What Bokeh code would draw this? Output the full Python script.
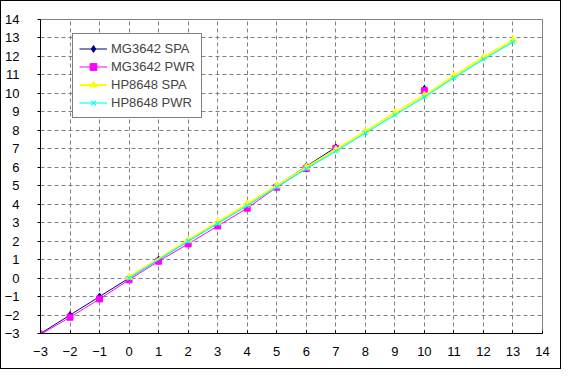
from bokeh.plotting import figure
from bokeh.models import Range1d, FixedTicker, Legend, LegendItem
from bokeh.embed import file_html
from bokeh.resources import INLINE

nan = float("nan")
# data
x_mg = [-3, -2, -1, 0, 1, 2, 3, 4, 5, 6, 7, 8, 9, 10]
mg_spa = [-3.0, -2.0, -1.0, 0.0, 1.0, 2.0, 3.0, 4.0, 5.0, 6.05, 7.08, nan, nan, 10.25]
mg_pwr = [-3.05, -2.12, -1.13, -0.09, 0.91, 1.85, 2.82, 3.78, 4.92, 5.93, 7.02, nan, nan, 10.15]
x_hp = [0, 2, 3, 4, 5, 6, 7, 8, 9, 10, 11, 12, 13]
hp_spa = [0.05, 2.05, 3.03, 4.02, 5.0, 6.0, 6.95, 7.95, 8.95, 9.9, 10.95, 11.95, 12.9]
hp_pwr = [0.0, 2.0, 2.95, 3.92, 4.93, 5.92, 6.87, 7.85, 8.83, 9.8, 10.85, 11.85, 12.78]
ticks = list(range(-3, 15))
labels = {t: (str(t).replace("-", "\u2212")) for t in ticks}

W, H = 561, 369
p = figure(width=W, height=H, output_backend="svg", toolbar_location=None,
           x_range=Range1d(-3, 14), y_range=Range1d(-3, 14),
           min_border_left=38, min_border_right=20, min_border_top=18, min_border_bottom=37)
p.styles = {"border": "1px solid black"}
p.outline_line_color = "#808080"
p.outline_line_width = 1
p.background_fill_color = "white"
p.border_fill_color = "white"

FONT = "Liberation Sans"
for ax in (p.xaxis[0], p.yaxis[0]):
    ax.ticker = FixedTicker(ticks=ticks)
    ax.major_label_overrides = labels
    ax.axis_line_color = "black"
    ax.major_tick_line_color = "black"
    ax.minor_tick_line_color = None
    ax.major_label_text_font = FONT
    ax.major_label_text_font_size = "13px"
    ax.major_label_text_color = "black"
p.xaxis.major_tick_in = 3
p.xaxis.major_tick_out = 0
p.xaxis.major_label_standoff = 13
p.yaxis.major_tick_in = 0
p.yaxis.major_tick_out = 3
p.yaxis.major_label_standoff = 18

for g in (p.xgrid[0], p.ygrid[0]):
    g.ticker = FixedTicker(ticks=ticks)
    g.grid_line_color = "#808080"
    g.grid_line_dash = "4 3"
    g.grid_line_width = 1

l1 = p.line(x_mg, mg_spa, line_color="#000080", line_width=1)
m1 = p.scatter(x_mg, mg_spa, marker="diamond", size=7, fill_color="#000080", line_color="#000080")
l2 = p.line(x_mg, mg_pwr, line_color="#FF00FF", line_width=1)
m2 = p.scatter(x_mg, mg_pwr, marker="square", size=6, fill_color="#FF00FF", line_color="#FF00FF")
l3 = p.line(x_hp, hp_spa, line_color="#FFFF00", line_width=2)
m3 = p.scatter(x_hp, hp_spa, marker="triangle", size=7, fill_color="#FFFF00", line_color="#FFFF00")
l4 = p.line(x_hp, hp_pwr, line_color="#00FFFF", line_width=1.2)
m4 = p.scatter(x_hp, hp_pwr, marker="x", size=6, line_color="#00FFFF", line_width=1.2)

legend = Legend(items=[
    LegendItem(label="MG3642 SPA", renderers=[l1, m1]),
    LegendItem(label="MG3642 PWR", renderers=[l2, m2]),
    LegendItem(label="HP8648 SPA", renderers=[l3, m3]),
    LegendItem(label="HP8648 PWR", renderers=[l4, m4]),
], location=(32, 215))
legend.border_line_color = "black"
legend.border_line_width = 1.5
legend.background_fill_color = "white"
legend.background_fill_alpha = 1
legend.label_text_font = FONT
legend.label_text_font_size = "13px"
legend.glyph_width = 28
legend.glyph_height = 17
legend.label_height = 17
legend.spacing = 1
legend.padding = 6
legend.margin = 0
legend.label_standoff = 4
p.add_layout(legend, "center")

open("out.html", "w").write(file_html(p, INLINE))
